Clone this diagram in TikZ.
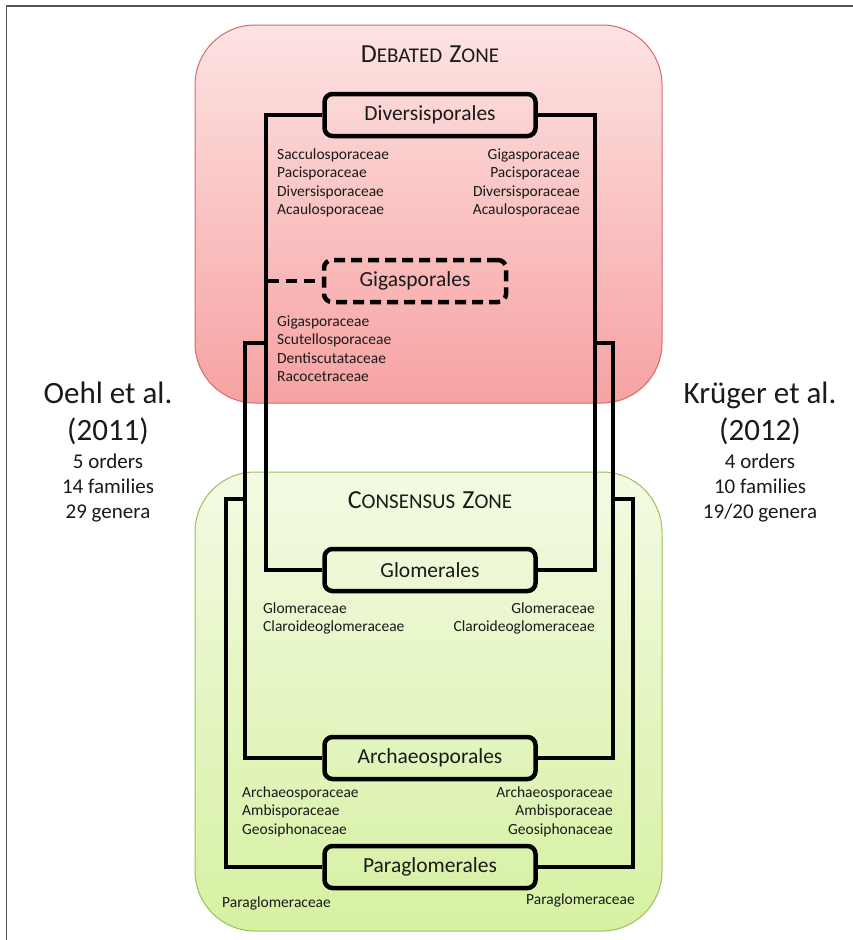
\documentclass[tikz,border=0pt]{standalone}
\usepackage{fontspec}
\setmainfont{Carlito}
\definecolor{redtop}{HTML}{FDE3E3}
\definecolor{redbot}{HTML}{F7A2A2}
\definecolor{redline}{HTML}{D46A6A}
\definecolor{greentop}{HTML}{F3FAE3}
\definecolor{greenbot}{HTML}{D6F1A2}
\definecolor{greenline}{HTML}{9CC05A}
\definecolor{framecol}{HTML}{555555}
\definecolor{txt}{HTML}{1A1A1A}
\newcommand\ZBig[1]{{\fontsize{26}{26}\selectfont #1}}
\newcommand\ZSm[1]{{\fontsize{21}{26}\selectfont #1}}
\tikzset{
  orderbox/.style={draw, line width=4.5pt, rounded corners=8pt, minimum width=211pt,
    minimum height=42pt, inner sep=0pt, text=txt, font=\fontsize{21.5}{24}\selectfont},
  tree/.style={line width=4.5pt, line join=miter},
  fam/.style={inner sep=0pt, text=txt, font=\fontsize{15.5}{18}\selectfont},
  bigref/.style={inner sep=0pt, anchor=base, text=txt, font=\fontsize{31}{31}\selectfont},
  smallref/.style={inner sep=0pt, anchor=base, text=txt, font=\fontsize{21}{21}\selectfont},
  zonetitle/.style={inner sep=0pt, anchor=base, text=txt}
}
\begin{document}
\begin{tikzpicture}[x=1pt,y=-1pt]
\useasboundingbox (0,0) rectangle (853,940);
\fill[white] (0,0) rectangle (853,940);
% frame
\draw[framecol, line width=1.6pt] (6.5,940) -- (6.5,6) -- (853,6);
% zones
\draw[redline, line width=1pt, rounded corners=60pt, top color=redtop, bottom color=redbot]
  (195,25) rectangle (662,403);
\draw[greenline, line width=1pt, rounded corners=60pt, top color=greentop, bottom color=greenbot]
  (195,472) rectangle (662,931);
\node[zonetitle] (dz) at (430,62) {\ZBig{D}\ZSm{EBATED}\hspace{7pt}\ZBig{Z}\ZSm{ONE}};
\node[zonetitle] (cz) at (430,508) {\ZBig{C}\ZSm{ONSENSUS}\hspace{7pt}\ZBig{Z}\ZSm{ONE}};
% order boxes
\node[orderbox] (div) at (430,115) {Diversisporales};
\node[orderbox, dash pattern=on 11pt off 6pt, minimum width=182pt] (gig) at (415,281) {Gigasporales};
\node[orderbox] (glo) at (430,570) {Glomerales};
\node[orderbox] (arc) at (430,758) {Archaeosporales};
\node[orderbox] (par) at (430,867) {Paraglomerales};
% tree coordinates
\coordinate (l1a) at (266,115); \coordinate (l1b) at (266,570);
\coordinate (l2s) at (266,343); \coordinate (l2a) at (245,343); \coordinate (l2b) at (245,758);
\coordinate (l3s) at (245,499); \coordinate (l3a) at (226,499); \coordinate (l3b) at (226,867);
\coordinate (r1a) at (595,115); \coordinate (r1b) at (595,570);
\coordinate (r2s) at (595,343); \coordinate (r2a) at (613,343); \coordinate (r2b) at (613,758);
\coordinate (r3s) at (613,499); \coordinate (r3a) at (633,499); \coordinate (r3b) at (633,867);
\coordinate (gs) at (268,281);
\draw[tree] (div.west) -- (l1a) -- (l1b) -- (glo.west);
\draw[tree] (l2s) -- (l2a) -- (l2b) -- (arc.west);
\draw[tree] (l3s) -- (l3a) -- (l3b) -- (par.west);
\draw[tree] (div.east) -- (r1a) -- (r1b) -- (glo.east);
\draw[tree] (r2s) -- (r2a) -- (r2b) -- (arc.east);
\draw[tree] (r3s) -- (r3a) -- (r3b) -- (par.east);
\draw[tree, dash pattern=on 11pt off 7pt] (gs) -- (gig.west);
% families
\foreach \t [count=\i from 0] in {Sacculosporaceae,Pacisporaceae,Diversisporaceae,Acaulosporaceae}
  \node[fam, anchor=base west] (dl\i) at (277,{159+18.6*\i}) {\t};
\foreach \t [count=\i from 0] in {Gigasporaceae,Pacisporaceae,Diversisporaceae,Acaulosporaceae}
  \node[fam, anchor=base east] (dr\i) at (580,{159+18.6*\i}) {\t};
\foreach \t [count=\i from 0] in {Gigasporaceae,Scutellosporaceae,Dentiscutataceae,Racocetraceae}
  \node[fam, anchor=base west] (gl\i) at (277,{326+18.6*\i}) {\t};
\foreach \t [count=\i from 0] in {Glomeraceae,Claroideoglomeraceae}
  \node[fam, anchor=base west] (ol\i) at (263,{613+18.6*\i}) {\t};
\foreach \t [count=\i from 0] in {Glomeraceae,Claroideoglomeraceae}
  \node[fam, anchor=base east] (or\i) at (595,{613+18.6*\i}) {\t};
\foreach \t [count=\i from 0] in {Archaeosporaceae,Ambisporaceae,Geosiphonaceae}
  \node[fam, anchor=base west] (al\i) at (242,{797+18.6*\i}) {\t};
\foreach \t [count=\i from 0] in {Archaeosporaceae,Ambisporaceae,Geosiphonaceae}
  \node[fam, anchor=base east] (ar\i) at (613,{797+18.6*\i}) {\t};
\node[fam, anchor=base west] (pl) at (222,907) {Paraglomeraceae};
\node[fam, anchor=base east] (pr) at (635,904) {Paraglomeraceae};
% side references
\node[bigref] (oehl) at (108,403) {Oehl et al.};
\node[bigref] (oehly) at (108,440) {(2011)};
\node[smallref] (o1) at (108,468) {5 orders};
\node[smallref] (o2) at (108,493) {14 families};
\node[smallref] (o3) at (108,518) {29 genera};
\node[bigref] (kr) at (760,403) {Krüger et al.};
\node[bigref] (kry) at (760,440) {(2012)};
\node[smallref] (k1) at (760,468) {4 orders};
\node[smallref] (k2) at (760,493) {10 families};
\node[smallref] (k3) at (760,518) {19/20 genera};
\end{tikzpicture}
\end{document}
